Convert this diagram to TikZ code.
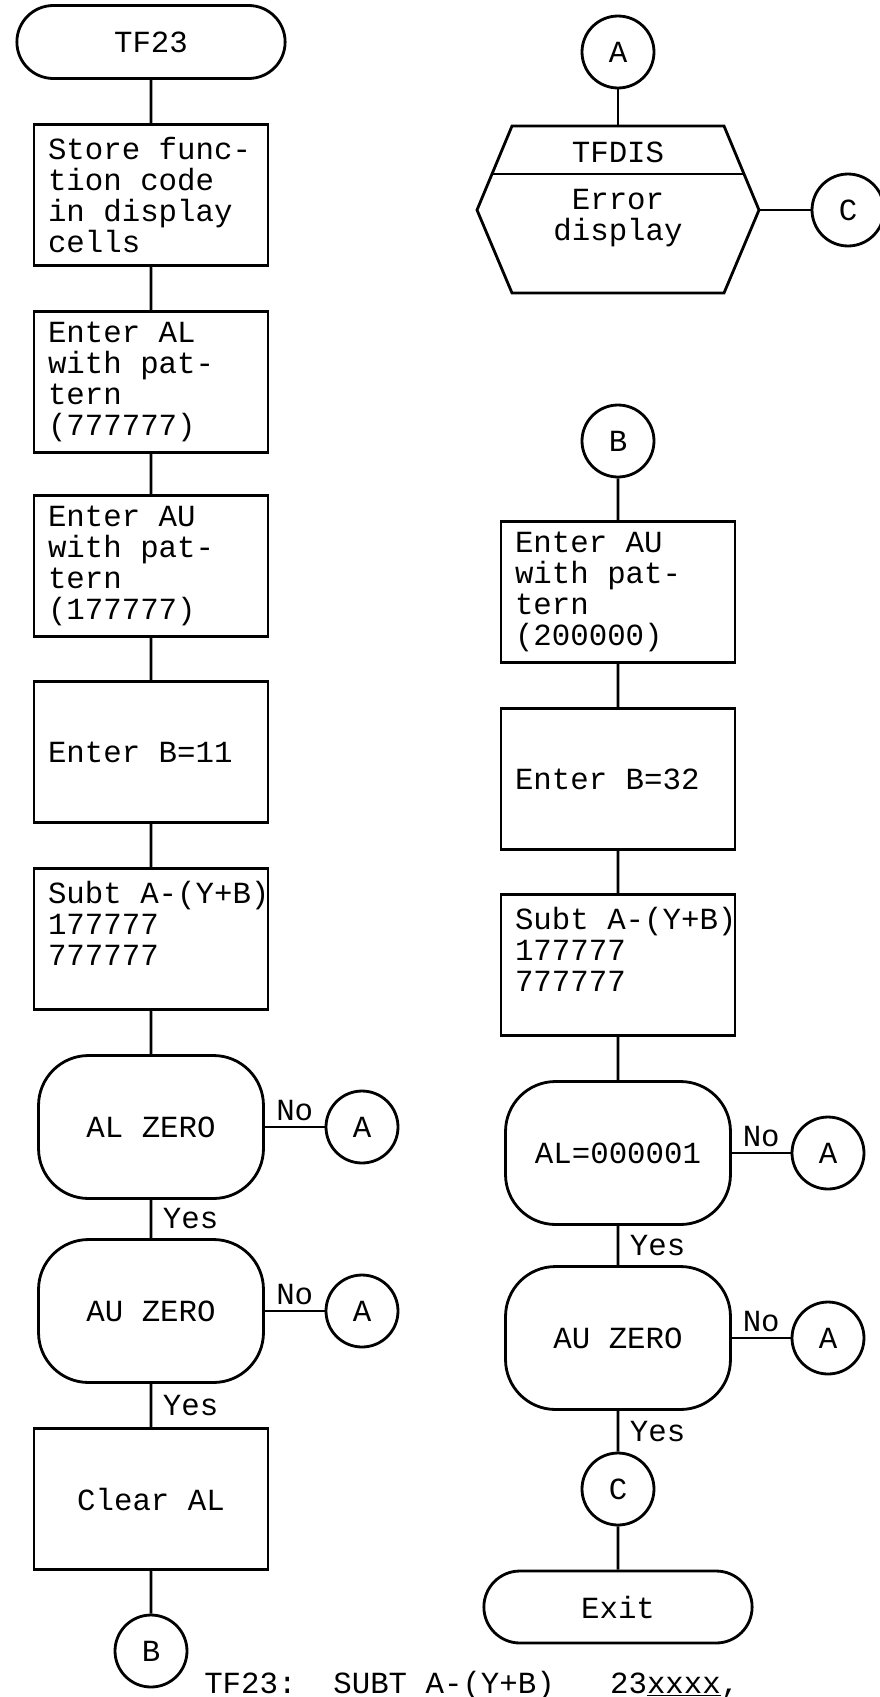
\documentclass[tikz,border=0pt]{standalone}
\usepackage{fontspec}
\setmonofont{Liberation Mono}
\usetikzlibrary{shapes.misc}

\begin{document}
\begin{tikzpicture}[
    x=0.02cm, y=-0.02cm,
    line width=1.6pt,
    font=\ttfamily\fontsize{17.5}{17.6}\selectfont,
    process/.style   = {draw, rectangle, minimum width=4.68cm,
                        minimum height=2.82cm, text width=4.12cm,
                        align=flush left, inner sep=0pt},
    decision/.style  = {draw, rectangle, rounded corners=1cm,
                        minimum width=4.5cm, minimum height=2.86cm},
    terminal/.style  = {draw, rounded rectangle, minimum width=5.6cm,
                        minimum height=1.46cm},
    connector/.style = {draw, circle, minimum size=1.44cm, inner sep=0pt},
    answer/.style    = {inner sep=3pt},
  ]

  \useasboundingbox (0,0) rectangle (879,1697);

  % --- left column: TF23 -----------------------------------------------------
  \def\xl{151}
  \node[terminal] (tf23)    at (\xl,42)  {TF23};
  \node[process]  (store)   at (\xl,195) {Store func-\\tion code\\in display\\cells};
  \node[process]  (enteral) at (\xl,382) {Enter AL\\with pat-\\tern\\(777777)};
  \node[process]  (enterau) at (\xl,566) {Enter AU\\with pat-\\tern\\(177777)};
  \node[process]  (enterb)  at (\xl,752) {Enter B=11};
  \node[process]  (subt)    at (\xl,939)
    {\mbox{Subt A-(Y+B)}\\177777\\777777\\\mbox{}};
  \node[decision] (alzero)  at (\xl,1127) {AL ZERO};
  \node[decision] (auzero)  at (\xl,1311) {AU ZERO};
  \node[process, align=flush center] (clear) at (\xl,1499) {Clear AL};
  \node[connector] (bout)   at (\xl,1651) {B};
  \node[connector] (ano1)   at (362,1127) {A};
  \node[connector] (ano2)   at (362,1311) {A};

  \draw (tf23) -- (store) -- (enteral) -- (enterau) -- (enterb) -- (subt)
    -- (alzero) -- node[right=3pt, answer] {Yes} (auzero)
    -- node[right=3pt, answer] {Yes} (clear) -- (bout);

  % --- right column: error exit and B entry ---------------------------------
  \def\xr{618}
  \node[connector] (ain) at (\xr,52) {A};
  \draw (512,126) -- (724,126) -- (759,210) -- (724,293) -- (512,293)
    -- (477,210) -- cycle;
  \draw (492,174) -- (744,174);
  \coordinate (hextop)   at (\xr,126);
  \coordinate (hexright) at (759,210);
  \node (tfdis) at (\xr,152) {TFDIS};
  \node[align=flush center] (errdisp) at (\xr,218) {Error\\display};
  \node[connector] (cout) at (848,210) {C};

  \draw (ain) -- (hextop);
  \draw (hexright) -- (cout);

  \node[connector] (bin)      at (\xr,441) {B};
  \node[process]   (enterau2) at (\xr,592) {Enter AU\\with pat-\\tern\\(200000)};
  \node[process]   (enterb2)  at (\xr,779) {Enter B=32};
  \node[process]   (subt2)    at (\xr,965)
    {\mbox{Subt A-(Y+B)}\\177777\\777777\\\mbox{}};
  \node[decision]  (alone)    at (\xr,1153) {AL=000001};
  \node[decision]  (auzero2)  at (\xr,1338) {AU ZERO};
  \node[connector] (cin)      at (\xr,1489) {C};
  \node[terminal, minimum height=1.44cm] (exit) at (\xr,1607) {Exit};
  \node[connector] (ano3)     at (828,1153) {A};
  \node[connector] (ano4)     at (828,1338) {A};

  \draw (bin) -- (enterau2) -- (enterb2) -- (subt2) -- (alone)
    -- node[right=3pt, answer] {Yes} (auzero2)
    -- node[right=3pt, answer] {Yes} (cin) -- (exit);

  % --- the "No" branches all go to A ----------------------------------------
  \foreach \d/\a in {alzero/ano1, auzero/ano2, alone/ano3, auzero2/ano4}
    \draw (\d) -- node[above, answer] {No} (\a);

  % --- instruction line ------------------------------------------------------
  \node[anchor=base west] (instr) at (197,1693)
    {TF23:~~SUBT A-(Y+B)~~~23\underline{xxxx},};

\end{tikzpicture}
\end{document}
